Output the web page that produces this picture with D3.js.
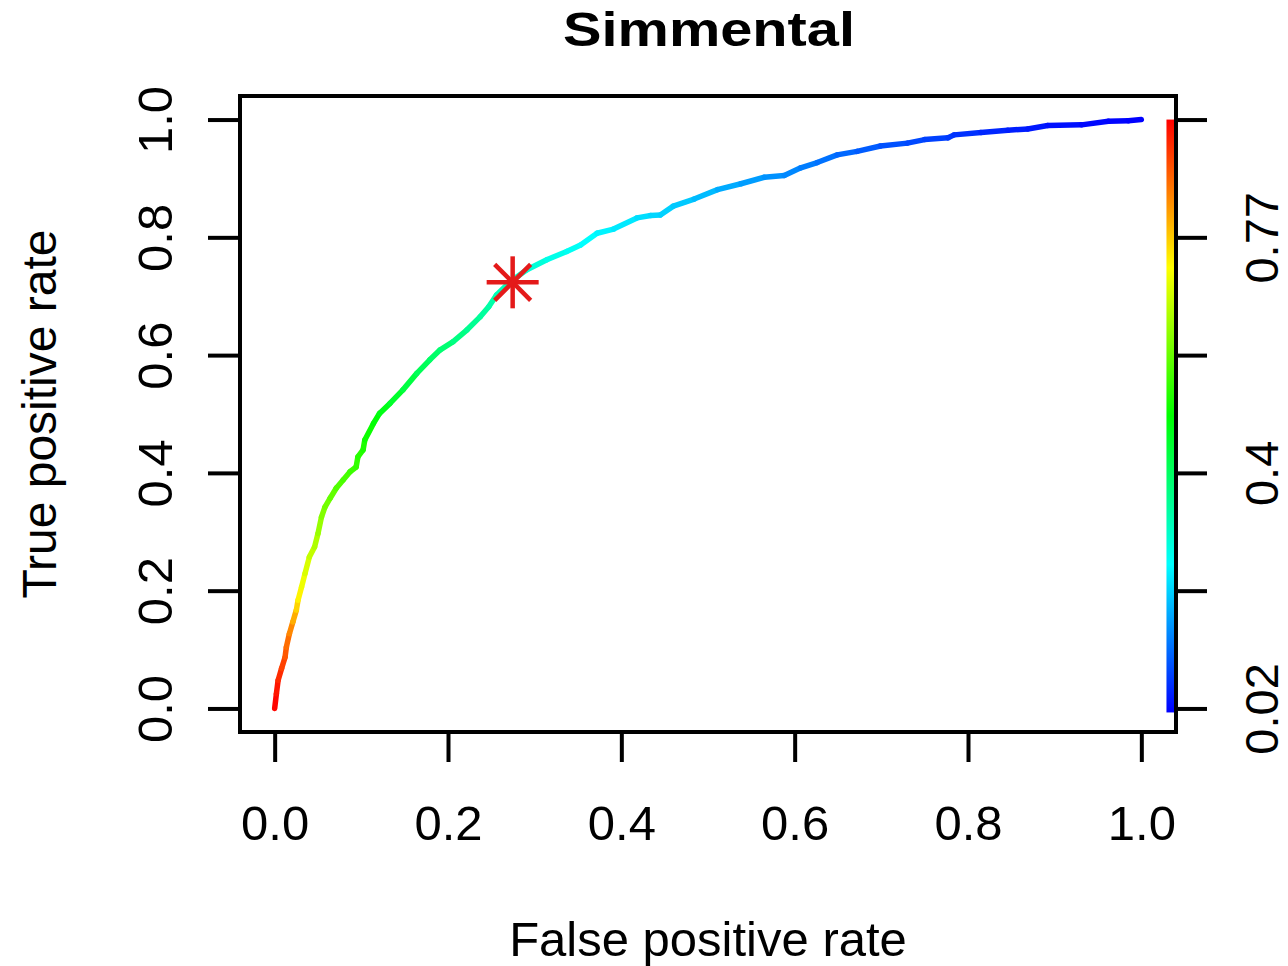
<!DOCTYPE html>
<html>
<head>
  <meta charset="utf-8">
  <script src="https://d3js.org/d3.v7.min.js"></script>
  <style>
    body { margin: 0; background: #fff; }
    svg text { font-family: "Liberation Sans", Arial, sans-serif; fill: #000; }
  </style>
</head>
<body>
<script>
  // ROC curve: false positive rate, true positive rate, cutoff (from colour)
  var fpr = [0, 0.002, 0.004, 0.008, 0.012, 0.0135, 0.017, 0.021, 0.025, 0.027, 0.031, 0.035, 0.040, 0.046,
    0.050, 0.054, 0.058, 0.064, 0.071, 0.079, 0.087, 0.094, 0.096, 0.102, 0.104, 0.114, 0.121, 0.133,
    0.148, 0.164, 0.179, 0.191, 0.206, 0.222, 0.237, 0.247, 0.256, 0.272, 0.291, 0.314, 0.337, 0.353,
    0.372, 0.391, 0.418, 0.434, 0.445, 0.460, 0.484, 0.511, 0.538, 0.565, 0.588, 0.607, 0.626, 0.649,
    0.672, 0.699, 0.730, 0.750, 0.777, 0.784, 0.815, 0.846, 0.869, 0.892, 0.931, 0.962, 0.985, 1.0];
  var tpr = [0, 0.025, 0.048, 0.068, 0.087, 0.104, 0.127, 0.147, 0.167, 0.184, 0.206, 0.229, 0.257, 0.274,
    0.297, 0.325, 0.342, 0.357, 0.374, 0.388, 0.402, 0.410, 0.427, 0.439, 0.456, 0.484, 0.501, 0.518,
    0.541, 0.569, 0.592, 0.609, 0.623, 0.643, 0.665, 0.682, 0.702, 0.725, 0.745, 0.762, 0.776, 0.787,
    0.807, 0.814, 0.833, 0.837, 0.838, 0.853, 0.865, 0.881, 0.891, 0.902, 0.905, 0.918, 0.927, 0.940,
    0.946, 0.955, 0.960, 0.966, 0.969, 0.974, 0.978, 0.982, 0.984, 0.990, 0.991, 0.997, 0.998, 1.0];
  var cutoff = [0.96, 0.95, 0.93, 0.91, 0.89, 0.87, 0.85, 0.82, 0.78, 0.75, 0.72, 0.70, 0.68, 0.66,
    0.64, 0.62, 0.60, 0.59, 0.57, 0.56, 0.55, 0.54, 0.53, 0.52, 0.51, 0.49, 0.48, 0.46,
    0.44, 0.42, 0.40, 0.39, 0.38, 0.36, 0.35, 0.34, 0.33, 0.31, 0.30, 0.28, 0.27, 0.26,
    0.25, 0.24, 0.23, 0.22, 0.215, 0.21, 0.20, 0.185, 0.17, 0.16, 0.15, 0.14, 0.13, 0.12,
    0.11, 0.10, 0.09, 0.085, 0.075, 0.07, 0.06, 0.05, 0.045, 0.04, 0.03, 0.025, 0.022, 0.02];

  // best cutoff point (red asterisk)
  var bestPoint = [0.2746, 0.7236];

  var axisTicks = [0, 0.2, 0.4, 0.6, 0.8, 1.0];
  var keyTicks = [0, 0.2, 0.4, 0.6, 0.8, 1.0];
  var keyLabelPos = [0, 0.4, 0.8];
  var keyLabels = ["0.02", "0.4", "0.77"];
  var cutRange = [0.02, 0.96];

  var width = 1288, height = 966;
  var svg = d3.select("body").append("svg")
      .attr("width", width)
      .attr("height", height);

  // R style: 4% padding around the data range
  var x = d3.scaleLinear().domain([-0.04, 1.04]).range([240, 1176]);
  var y = d3.scaleLinear().domain([-0.04, 1.04]).range([732, 96]);

  // cutoff -> rainbow, red for high, blue for low
  var hue = d3.scaleLinear().domain(cutRange).range([240, 0]);
  function cutColor(c) { return d3.hsl(hue(c), 1, 0.5).toString(); }
  var keyHue = d3.scaleLinear().domain([0, 1]).range([240, 0]);

  /* colour key on the right edge */
  var grad = svg.append("defs").append("linearGradient")
      .attr("id", "key").attr("x1", 0).attr("y1", 1).attr("x2", 0).attr("y2", 0);
  [0, 0.25, 0.5, 0.75, 1].forEach(function (t) {
    grad.append("stop").attr("offset", t)
      .attr("stop-color", d3.hsl(keyHue(t), 1, 0.5).toString());
  });
  svg.append("rect")
      .attr("x", x(1.029))
      .attr("y", y(1))
      .attr("width", x(1.038) - x(1.029))
      .attr("height", y(0) - y(1) + 4)
      .attr("fill", "url(#key)");

  /* coloured ROC curve, one segment per step */
  var pts = fpr.map(function (f, i) { return { x: f, y: tpr[i], c: cutoff[i] }; });
  var segs = d3.pairs(pts);
  svg.append("g").selectAll("line")
      .data(segs)
      .enter().append("line")
      .attr("x1", function (d) { return x(d[0].x); })
      .attr("y1", function (d) { return y(d[0].y); })
      .attr("x2", function (d) { return x(d[1].x); })
      .attr("y2", function (d) { return y(d[1].y); })
      .attr("stroke", function (d) { return cutColor((d[0].c + d[1].c) / 2); })
      .attr("stroke-width", 5.5)
      .attr("stroke-linecap", "round");

  /* asterisk */
  var star = svg.append("g")
      .attr("transform", "translate(" + x(bestPoint[0]) + "," + y(bestPoint[1]) + ")")
      .attr("stroke", "#e41a1a").attr("stroke-width", 4.5);
  var r = 26, q = 18;
  [[-r, 0, r, 0], [0, -r, 0, r], [-q, -q, q, q], [-q, q, q, -q]].forEach(function (a) {
    star.append("line").attr("x1", a[0]).attr("y1", a[1]).attr("x2", a[2]).attr("y2", a[3]);
  });

  /* box */
  svg.append("rect")
      .attr("x", 240).attr("y", 96)
      .attr("width", 936).attr("height", 636)
      .attr("fill", "none").attr("stroke", "#000").attr("stroke-width", 4);

  function styleAxis(g) {
    g.select(".domain").remove();
    g.selectAll(".tick line").attr("stroke", "#000").attr("stroke-width", 4);
    g.selectAll(".tick text").style("font-size", "49px").attr("fill", "#000");
  }

  var xAxis = svg.append("g")
      .attr("transform", "translate(0,732)")
      .call(d3.axisBottom(x).tickValues(axisTicks).tickSize(30).tickFormat(d3.format(".1f")))
      .call(styleAxis);
  xAxis.selectAll(".tick text").attr("y", 108).attr("dy", 0);

  var yAxis = svg.append("g")
      .attr("transform", "translate(240,0)")
      .call(d3.axisLeft(y).tickValues(axisTicks).tickSize(32).tickFormat(d3.format(".1f")))
      .call(styleAxis);
  yAxis.selectAll(".tick text")
      .attr("transform", "rotate(-90)")
      .attr("text-anchor", "middle")
      .attr("x", 0).attr("y", -68).attr("dy", 0);

  var kAxis = svg.append("g")
      .attr("transform", "translate(1176,0)")
      .call(d3.axisRight(y).tickValues(keyTicks).tickSize(31)
        .tickFormat(function (d) {
          var i = keyLabelPos.indexOf(d);
          return i < 0 ? "" : keyLabels[i];
        }))
      .call(styleAxis);
  kAxis.selectAll(".tick text")
      .style("font-size", "47px")
      .attr("transform", "rotate(-90)")
      .attr("text-anchor", "middle")
      .attr("x", 0).attr("y", 102).attr("dy", 0);

  /* titles */
  svg.append("text")
      .attr("x", 709).attr("y", 46)
      .attr("text-anchor", "middle")
      .attr("textLength", 292).attr("lengthAdjust", "spacingAndGlyphs")
      .style("font-size", "49px").style("font-weight", "bold")
      .text("Simmental");

  svg.append("text")
      .attr("x", 708).attr("y", 956)
      .attr("text-anchor", "middle")
      .style("font-size", "49px")
      .text("False positive rate");

  svg.append("text")
      .attr("transform", "translate(56,414) rotate(-90)")
      .attr("text-anchor", "middle")
      .style("font-size", "48px")
      .text("True positive rate");
</script>
</body>
</html>
